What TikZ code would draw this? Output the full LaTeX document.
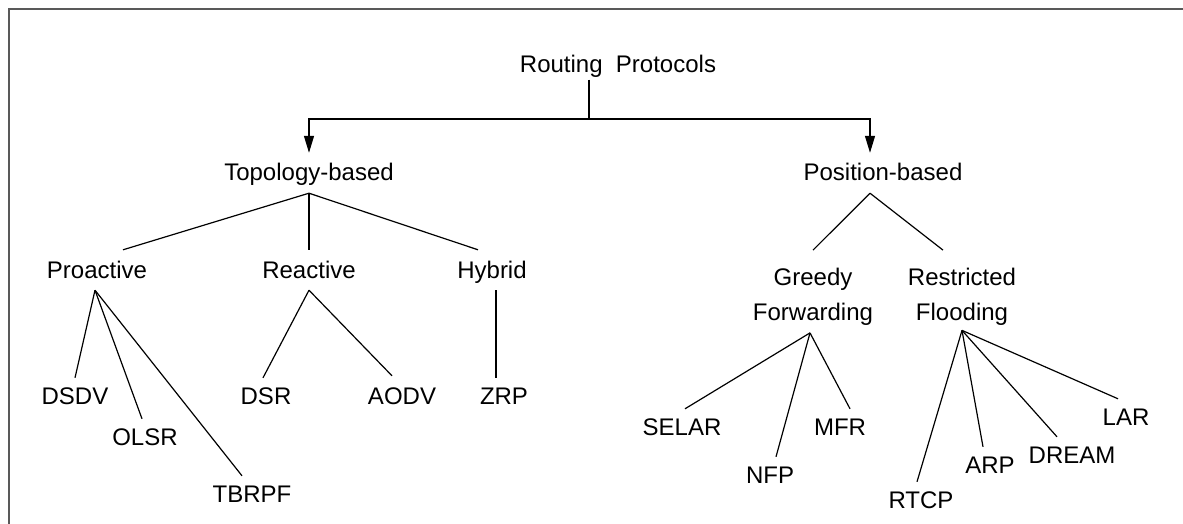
\documentclass[tikz,border=0pt]{standalone}
\usepackage{fontspec}
\setmainfont{Liberation Sans}
\usetikzlibrary{arrows.meta}

\begin{document}
\begin{tikzpicture}[
      x=1pt, y=-1pt,
      font=\fontsize{24}{35}\selectfont,
      lbl/.style={inner sep=2pt, text height=17pt, text depth=0pt},
      twoline/.style={inner sep=2pt, align=center},
      branch/.style={draw=black, line width=1.2pt},
      flow/.style={draw=black, line width=1.2pt, shorten >=8.5pt,
                   -{Triangle[length=17pt, width=10pt]}},
      frame/.style={draw=black!65, line width=2pt}
    ]
    \useasboundingbox (0,0) rectangle (1183,524);
    \draw[frame] (9,524) -- (9,9) -- (1183,9);

    % Root and the two families.
    \node[lbl] (routing) at (618,64) {Routing\ \ Protocols};
    \node[lbl] (topo) at (309,172) {Topology-based};
    \node[lbl] (posb) at (883,172) {Position-based};
    \coordinate (split) at (589,119);
    \draw[branch] ([shift={(-29,5)}]routing.south) -- (split);
    \draw[flow] (split) -| (topo.north);
    \draw[flow] (split) -| ([xshift=-13pt]posb.north);

    % Topology-based branch.
    \node[lbl] (proactive) at (97,270) {Proactive};
    \node[lbl] (reactive) at (309,270) {Reactive};
    \node[lbl] (hybrid) at (492,270) {Hybrid};
    \draw[branch] ([shift={(0,10.5)}]topo.south) -- ([shift={(26,-9.5)}]proactive.north);
    \draw[branch] ([shift={(0,10.5)}]topo.south) -- ([shift={(0,-9.5)}]reactive.north);
    \draw[branch] ([shift={(0,10.5)}]topo.south) -- ([shift={(-14,-9.5)}]hybrid.north);

    \node[lbl] (dsdv) at (75,396) {DSDV};
    \node[lbl] (olsr) at (145,437) {OLSR};
    \node[lbl] (tbrpf) at (252,494) {TBRPF};
    \draw[branch] ([shift={(-2,9.5)}]proactive.south) -- ([shift={(0,-7.5)}]dsdv.north);
    \draw[branch] ([shift={(-2,9.5)}]proactive.south) -- ([shift={(-3,-7.5)}]olsr.north);
    \draw[branch] ([shift={(-2,9.5)}]proactive.south) -- ([shift={(-10,-7.5)}]tbrpf.north);

    \node[lbl] (dsr) at (266,396) {DSR};
    \node[lbl] (aodv) at (402,396) {AODV};
    \draw[branch] ([shift={(0,9.5)}]reactive.south) -- ([shift={(-3,-7.5)}]dsr.north);
    \draw[branch] ([shift={(0,9.5)}]reactive.south) -- ([shift={(-10,-9.5)}]aodv.north);

    \node[lbl] (zrp) at (504,396) {ZRP};
    \draw[branch] ([shift={(4,9.5)}]hybrid.south) -- ([shift={(-8,-7.5)}]zrp.north);

    % Position-based branch.
    \node[twoline] (greedy) at (813,297) {Greedy\\Forwarding};
    \node[twoline] (restricted) at (962,297) {Restricted\\Flooding};
    \draw[branch] ([shift={(-13,10.5)}]posb.south) -- ([shift={(0,-16)}]greedy.north);
    \draw[branch] ([shift={(-13,10.5)}]posb.south) -- ([shift={(-19,-16)}]restricted.north);

    \node[lbl] (selar) at (682,427) {SELAR};
    \node[lbl] (nfp) at (770,475) {NFP};
    \node[lbl] (mfr) at (840,427) {MFR};
    \draw[branch] ([shift={(-3,5)}]greedy.south) -- ([shift={(3,-7.5)}]selar.north);
    \draw[branch] ([shift={(-3,5)}]greedy.south) -- ([shift={(6,-7.5)}]nfp.north);
    \draw[branch] ([shift={(-3,5)}]greedy.south) -- ([shift={(10,-7.5)}]mfr.north);

    \node[lbl] (rtcp) at (921,500) {RTCP};
    \node[lbl] (arp) at (990,465) {ARP};
    \node[lbl] (dream) at (1072,455) {DREAM};
    \node[lbl] (lar) at (1126,417) {LAR};
    \draw[branch] ([shift={(0,2.5)}]restricted.south) -- ([shift={(-4,-7.5)}]rtcp.north);
    \draw[branch] ([shift={(0,2.5)}]restricted.south) -- ([shift={(-7,-7.5)}]arp.north);
    \draw[branch] ([shift={(0,2.5)}]restricted.south) -- ([shift={(-15,-7.5)}]dream.north);
    \draw[branch] ([shift={(0,2.5)}]restricted.south) -- ([shift={(-8,-7.5)}]lar.north);
  \end{tikzpicture}
\end{document}
